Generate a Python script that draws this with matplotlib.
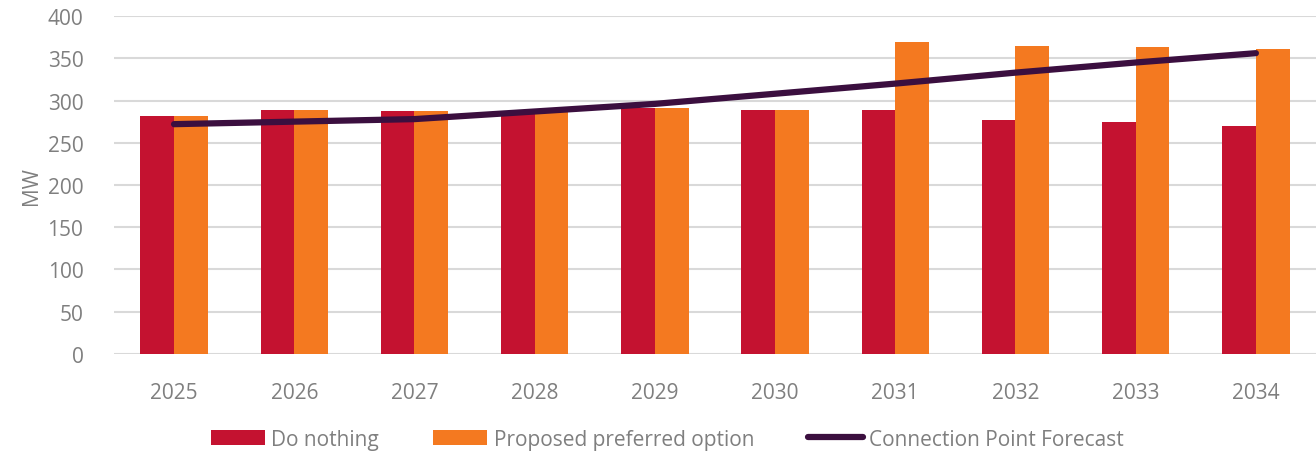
import matplotlib
matplotlib.use("Agg")
import matplotlib.pyplot as plt
import numpy as np

years = ["2025", "2026", "2027", "2028", "2029", "2030", "2031", "2032", "2033", "2034"]
do_nothing = [282, 289, 287, 286, 291, 289, 289, 277, 274, 270]
preferred = [282, 289, 287, 286, 291, 289, 369, 364, 363, 361]
forecast = [272, 275, 278, 287, 296, 308, 320, 333, 345, 356]

RED = "#C41230"
ORANGE = "#F47920"
PURPLE = "#3B0F3F"
GREY = "#7F7F7F"
FS = 15

plt.rcParams['font.family'] = ['Open Sans', 'DejaVu Sans']

fig = plt.figure(figsize=(13.16, 4.56), dpi=100)
ax = fig.add_axes([0.0866, 0.2215, 0.9134, 0.7412])

x = np.arange(len(years))
w = 0.28
ax.bar(x - w / 2, do_nothing, width=w, color=RED, label="Do nothing", zorder=2)
ax.bar(x + w / 2, preferred, width=w, color=ORANGE, label="Proposed preferred option", zorder=2)
ax.plot(x, forecast, color=PURPLE, lw=4.5, solid_capstyle="round", label="Connection Point Forecast", zorder=3)

ax.set_xlim(-0.5, len(years) - 0.5)
ax.set_ylim(0, 400)
ax.set_yticks(range(0, 401, 50))
ax.set_xticks(x)
ax.set_xticklabels(years)
ax.yaxis.grid(True, color="#D9D9D9", lw=1.5, zorder=0)
ax.set_axisbelow(True)
for s in ax.spines.values():
    s.set_visible(False)
ax.tick_params(axis="both", length=0, labelsize=FS, colors=GREY)
ax.tick_params(axis="x", pad=20)
ax.tick_params(axis="y", pad=22)
ax.set_ylabel("MW", fontsize=FS, color=GREY, labelpad=4)

handles, labels = ax.get_legend_handles_labels()
order = [1, 2, 0]
handles = [handles[i] for i in order]
labels = [labels[i] for i in order]
leg = fig.legend(handles, labels, loc="center", bbox_to_anchor=(0.507, 0.035), ncol=3,
                 frameon=False, fontsize=FS, handlelength=2.6, handletextpad=0.3,
                 columnspacing=2.6, labelcolor=GREY)

fig.savefig("out.png", dpi=100)
